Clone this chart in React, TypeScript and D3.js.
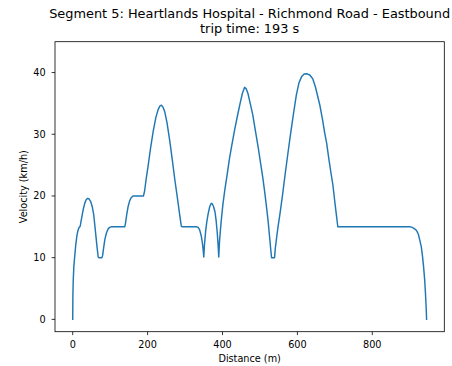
import React, { useEffect } from "react";
import * as d3 from "d3";

const TITLE_LINES = [
  "Segment 5: Heartlands Hospital - Richmond Road - Eastbound",
  "trip time: 193 s",
];
const X_LABEL = "Distance (m)";
const Y_LABEL = "Velocity (km/h)";
const X_TICKS = [0, 200, 400, 600, 800];
const Y_TICKS = [0, 10, 20, 30, 40];

const distance = [
  0, 0.5, 1.5, 3, 5, 8, 11, 14, 17, 20, 24, 28, 32, 36, 40, 44, 48, 52, 56, 59, 62, 65, 68, 70, 78, 80, 83, 86, 90, 95, 100, 104,
  139, 141, 144, 148, 152, 156, 161, 189, 192, 196, 201, 208, 215, 222, 228, 233, 237, 241, 246, 252, 259, 266, 273, 280, 286, 290, 292,
  330, 335, 339, 343, 346, 348, 350, 352, 355, 358, 362, 366, 370, 373, 376, 380, 383, 386, 388, 390,
  392, 396, 401, 406, 411, 419, 426, 433, 440, 447, 453, 459, 463, 468, 474, 481, 488, 495, 502, 508, 513, 518, 522, 526, 529, 531,
  539, 541, 545, 549, 553, 560, 567, 574, 580, 588, 597, 604, 611, 618, 626, 633, 641, 648, 654, 660, 667, 673, 678, 684, 690, 695, 700, 705, 708,
  900, 905, 910, 915, 919, 923, 927, 931, 934, 937, 940, 942, 944, 945,
];
const velocity = [
  0, 4, 6.5, 8.5, 10, 12, 13.5, 14.4, 14.9, 15.1, 16.5, 17.8, 18.8, 19.4, 19.6, 19.5, 19.1, 18.3, 17, 15.3, 13.5, 11.7, 10.1, 10, 10, 10.4, 11.8, 13, 14, 14.7, 14.95, 15,
  15, 15.6, 16.9, 18.3, 19.2, 19.7, 20, 20, 20.8, 22.7, 24.7, 27.8, 30.5, 32.7, 34, 34.6, 34.7, 34.4, 33.6, 31.8, 29, 25.8, 22.5, 19.5, 16.8, 15.1, 15,
  15, 14.9, 14.5, 13.6, 12.5, 11.5, 10.1, 12.2, 14.3, 15.8, 17.2, 18.3, 18.8, 18.7, 18.3, 17.4, 16, 14, 12.3, 10.1,
  12.6, 15.6, 18.6, 20.9, 22.9, 26.2, 28.6, 30.9, 33, 35, 36.6, 37.6, 37.4, 36.6, 35, 33.1, 30.5, 28, 25.2, 22.8, 20.5, 18, 15.8, 13.2, 11.2, 10,
  10, 11.5, 13.5, 15.3, 16.9, 20, 23.4, 26.6, 29.3, 32.7, 36.3, 38.3, 39.3, 39.75, 39.8, 39.6, 39, 37.7, 36.2, 34.7, 32.4, 30.2, 28.6, 26, 23.6, 21.7, 19, 16.5, 15,
  15, 14.95, 14.8, 14.6, 14.3, 13.8, 12.8, 11.7, 10.3, 8.5, 6.3, 4.2, 1.8, 0,
];

const W = 452;
const H = 366;
const M = { left: 55, right: 444.3, top: 41.7, bottom: 331.7 };

export default function App() {
  useEffect(() => {
    document.body.style.margin = "0";
  }, []);

  const x = d3.scaleLinear().domain([-47.3, 992.3]).range([M.left, M.right]);
  const y = d3.scaleLinear().domain([-2, 45]).range([M.bottom, M.top]);
  const pts: [number, number][] = distance.map((d, i) => [d, velocity[i]]);
  const line = d3
    .line<[number, number]>()
    .x((d) => x(d[0]))
    .y((d) => y(d[1]));

  const font = "DejaVu Sans, sans-serif";
  const tickColor = "#000";

  return (
    <svg width={W} height={H} style={{ display: "block" }} fontFamily={font}>
      <rect x={0} y={0} width={W} height={H} fill="#fff" />
      <text x={(M.left + M.right) / 2} y={17.5} fontSize={12.9} textAnchor="middle" fill="#000">
        {TITLE_LINES[0]}
      </text>
      <text x={(M.left + M.right) / 2} y={32.5} fontSize={12.9} textAnchor="middle" fill="#000">
        {TITLE_LINES[1]}
      </text>
      <path d={line(pts) || ""} fill="none" stroke="#1f77b4" strokeWidth={1.45} strokeLinejoin="round" strokeLinecap="square" />
      <rect x={M.left} y={M.top} width={M.right - M.left} height={M.bottom - M.top} fill="none" stroke="#000" strokeWidth={0.8} />
      {X_TICKS.map((t) => (
        <g key={"x" + t}>
          <line x1={x(t)} x2={x(t)} y1={M.bottom} y2={M.bottom + 3.4} stroke={tickColor} strokeWidth={0.8} />
          <text x={x(t)} y={348.3} fontSize={9.7} textAnchor="middle" fill="#000">
            {t}
          </text>
        </g>
      ))}
      {Y_TICKS.map((t) => (
        <g key={"y" + t}>
          <line x1={M.left - 3.4} x2={M.left} y1={y(t)} y2={y(t)} stroke={tickColor} strokeWidth={0.8} />
          <text x={45.7} y={y(t) + 3.5} fontSize={9.7} textAnchor="end" fill="#000">
            {t}
          </text>
        </g>
      ))}
      <text x={(M.left + M.right) / 2} y={362} fontSize={9.7} textAnchor="middle" fill="#000">
        {X_LABEL}
      </text>
      <text
        transform={`translate(27,${(M.top + M.bottom) / 2}) rotate(-90)`}
        fontSize={9.7}
        textAnchor="middle"
        fill="#000"
      >
        {Y_LABEL}
      </text>
    </svg>
  );
}
